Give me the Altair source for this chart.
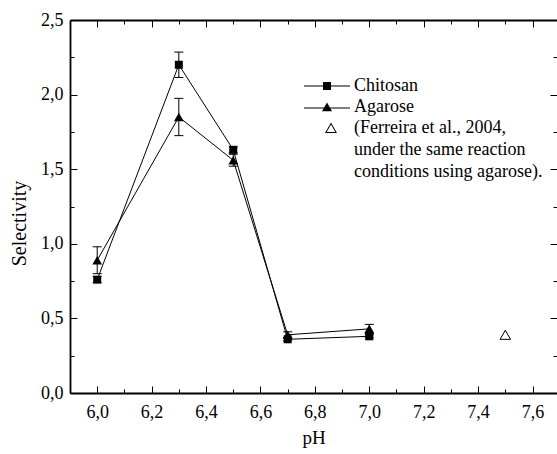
import altair as alt
import pandas as pd

# ---------------- data ----------------
ph = [6.0, 6.3, 6.5, 6.7, 7.0]
chitosan = [0.76, 2.20, 1.63, 0.36, 0.38]
chitosan_err = [0.02, 0.085, 0.02, 0.01, 0.01]
agarose = [0.89, 1.85, 1.56, 0.39, 0.43]
agarose_err = [0.09, 0.125, 0.04, 0.02, 0.03]
series_names = ["Chitosan", "Agarose"]

ferreira_ph = [7.5]
ferreira_sel = [0.39]

legend_labels = [
    "Chitosan",
    "Agarose",
    "(Ferreira et al., 2004,|under the same reaction|conditions using agarose).",
]

x_major = [6.0, 6.2, 6.4, 6.6, 6.8, 7.0, 7.2, 7.4, 7.6]
x_minor = [6.1, 6.3, 6.5, 6.7, 6.9, 7.1, 7.3, 7.5]
y_major = [0.0, 0.5, 1.0, 1.5, 2.0, 2.5]
y_minor = [0.25, 0.75, 1.25, 1.75, 2.25]

rows = []
for name, vals, errs in zip(series_names, [chitosan, agarose], [chitosan_err, agarose_err]):
    for p, v, e in zip(ph, vals, errs):
        rows.append({"series": name, "ph": p, "sel": v, "lo": v - e, "hi": v + e})
df = pd.DataFrame(rows)
fer = pd.DataFrame({"ph": ferreira_ph, "sel": ferreira_sel})
leg = pd.DataFrame({"label": legend_labels})

# ---------------- styling ----------------
FONT = "Liberation Serif"
MAJ = 7
MIN = 4
FRAME_W = 1.8
xs = alt.Scale(domain=[5.9, 7.69], nice=False, zero=False)
ys = alt.Scale(domain=[0, 2.5], nice=False, zero=False)


def tick_axis(orient, values, size):
    return alt.Axis(orient=orient, values=values, labels=False, domain=False,
                    ticks=True, tickSize=size, offset=-size, tickColor="black",
                    tickWidth=1, grid=False, title=None)


x_label_axis = alt.Axis(orient="bottom", values=x_major, ticks=False, domain=True,
                        domainColor="black", domainWidth=FRAME_W, grid=False,
                        labelExpr="replace(format(datum.value, '.1f'), '.', ',')",
                        labelPadding=10, title="pH", titlePadding=7, titleFontSize=19)
y_label_axis = alt.Axis(orient="left", values=y_major, ticks=False, domain=True,
                        domainColor="black", domainWidth=FRAME_W, grid=False,
                        labelExpr="replace(format(datum.value, '.1f'), '.', ',')",
                        labelPadding=7, title="Selectivity", titlePadding=11,
                        titleFontSize=20, titleY=203)
x_top_domain = alt.Axis(orient="top", ticks=False, labels=False, domain=True,
                        domainColor="black", domainWidth=FRAME_W, grid=False, title=None)

base = alt.Chart(df)


def tick_layer(xo, xv, yo, yv, size):
    return base.mark_point(opacity=0).encode(
        x=alt.X("ph:Q", scale=xs, axis=tick_axis(xo, xv, size)),
        y=alt.Y("sel:Q", scale=ys, axis=tick_axis(yo, yv, size)),
    )


t1 = tick_layer("bottom", x_major, "left", y_major, MAJ)
t2 = tick_layer("bottom", x_minor, "left", y_minor, MIN)
t3 = tick_layer("top", x_major, "right", y_major, MAJ)
t4 = tick_layer("top", x_minor, "right", y_minor, MIN)

lines = base.mark_line(color="black", strokeWidth=1).encode(
    x=alt.X("ph:Q", scale=xs, axis=x_label_axis),
    y=alt.Y("sel:Q", scale=ys, axis=y_label_axis),
    detail="series:N",
)

err_rules = base.mark_rule(color="black", strokeWidth=1).encode(
    x=alt.X("ph:Q", scale=xs, axis=None),
    y=alt.Y("lo:Q", scale=ys, axis=None),
    y2="hi:Q",
)

cap_lo = base.mark_tick(color="black", orient="horizontal", size=9, thickness=1, opacity=1).encode(
    x=alt.X("ph:Q", scale=xs, axis=None),
    y=alt.Y("lo:Q", scale=ys, axis=None),
)

cap_hi = base.mark_tick(color="black", orient="horizontal", size=9, thickness=1, opacity=1).encode(
    x=alt.X("ph:Q", scale=xs, axis=None),
    y=alt.Y("hi:Q", scale=ys, axis=None),
)

squares = base.transform_filter(alt.datum.series == "Chitosan").mark_point(
    shape="square", filled=True, size=64, color="black", opacity=1
).encode(
    x=alt.X("ph:Q", scale=xs, axis=x_top_domain),
    y=alt.Y("sel:Q", scale=ys, axis=None),
)

triangles = base.transform_filter(alt.datum.series == "Agarose").mark_point(
    shape="triangle-up", filled=True, size=95, color="black", opacity=1
).encode(
    x=alt.X("ph:Q", scale=xs, axis=None),
    y=alt.Y("sel:Q", scale=ys, axis=None),
)

fer_pt = alt.Chart(fer).mark_point(
    shape="triangle-up", filled=False, size=110, color="black", strokeWidth=1, opacity=1
).encode(
    x=alt.X("ph:Q", scale=xs, axis=None),
    y=alt.Y("sel:Q", scale=ys, axis=None),
)

legend_paths = [
    "M-2.3,-0.05L2.3,-0.05L2.3,0.05L-2.3,0.05Z"
    "M-0.4,-0.4L0.4,-0.4L0.4,0.4L-0.4,0.4Z",
    "M-2.3,0.05L2.3,0.05L2.3,0.15L-2.3,0.15Z"
    "M0,-0.45L0.5,0.42L-0.5,0.42Z",
    "M0.4,-0.55L1.0,0.5L-0.2,0.5Z"
    "M0.4,-0.35L-0.03,0.4L0.83,0.4Z",
]
legend_def = alt.Legend(
    title=None, orient="none", legendX=247, legendY=56, symbolSize=400,
    labelFontSize=18, labelFont=FONT, labelColor="black",
    labelExpr="split(datum.label, '|')", labelLimit=400, labelOffset=17,
    rowPadding=2, padding=0, symbolStrokeWidth=0, symbolFillColor="black",
)
legend_layer = alt.Chart(leg).transform_filter("false").mark_point(
    filled=True, color="black", opacity=1
).encode(
    shape=alt.Shape("label:N", scale=alt.Scale(domain=legend_labels, range=legend_paths),
                    legend=legend_def),
)

chart = alt.layer(
    t1, t2, t3, t4, lines, err_rules, cap_lo, cap_hi, squares, triangles, fer_pt, legend_layer
).resolve_axis(
    x="independent", y="independent"
).properties(
    width=487, height=373,
    autosize=alt.AutoSizeParams(type="none"),
    padding={"left": 70, "top": 20, "right": 0, "bottom": 61},
    background="white",
).configure(
    font=FONT,
    style={"guide-label": {"lineHeight": 22}},
).configure_axis(
    labelFont=FONT, titleFont=FONT, labelFontSize=18, titleFontSize=18,
    titleFontWeight="normal", labelColor="black", titleColor="black",
).configure_view(
    stroke=None,
)

chart.save("out.html", embed_options={"renderer": "svg", "actions": False})
